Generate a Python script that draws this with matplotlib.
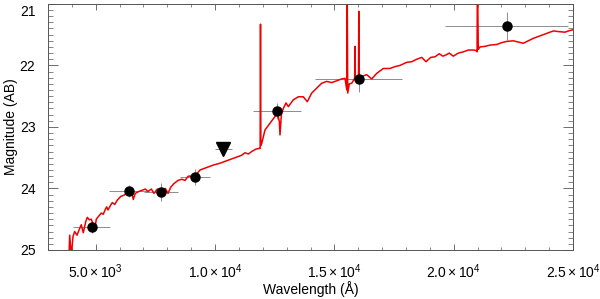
import matplotlib
matplotlib.use("Agg")
import matplotlib.pyplot as plt
import matplotlib.transforms as mtransforms
import numpy as np
from matplotlib.ticker import MultipleLocator, FixedLocator

plt.rcParams['font.family'] = ['Liberation Sans', 'DejaVu Sans']
plt.rcParams['mathtext.fontset'] = 'custom'
plt.rcParams['mathtext.rm'] = 'Liberation Sans'
plt.rcParams['mathtext.it'] = 'Liberation Sans:italic'
plt.rcParams['mathtext.bf'] = 'Liberation Sans:bold'

# ---- model spectrum (wavelength in Angstrom, AB magnitude) ----
spec_wave = [3850, 3880, 3909, 3976, 4048, 4119, 4215, 4328, 4395, 4479, 4580, 4647,
             4731, 4814, 4898, 4957, 5024, 5125, 5234, 5317, 5401, 5460, 5514, 5627,
             5694, 5795, 5904, 6047, 6185, 6323, 6424, 6520, 6574, 6658, 6801, 6939,
             7077, 7190, 7329, 7442, 7580, 7748, 7915, 8029, 8142, 8280, 8448, 8603,
             8741, 8879, 9160, 9370, 9650, 9927, 10208, 10417, 10627, 10908, 11117,
             11255, 11394, 11536, 11716, 11855, 11890, 11905, 11920, 11955, 12093,
             12303, 12512, 12609, 12693, 12722, 12780, 12860, 12973, 13070, 13279,
             13489, 13698, 13866, 14050, 14260, 14469, 14679, 14888, 15098, 15307,
             15446, 15520, 15535, 15560, 15626, 15727, 15836, 15850, 15865, 15880,
             15936, 16010, 16024, 16040, 16074, 16213, 16355, 16565, 16774, 17051,
             17331, 17541, 17750, 18031, 18241, 18450, 18660, 18840, 19037, 19217,
             19397, 19540, 19678, 19816, 19984, 20193, 20403, 20612, 20822, 20964,
             20980, 20995, 21031, 21103, 21312, 21522, 21802, 22012, 22221, 22498,
             22708, 22917, 23127, 23337, 23617, 23898, 24175, 24385, 24666, 24804,
             25013]
spec_mag = [25.40, 25.05, 24.76, 25.10, 24.78, 24.70, 24.76, 24.65, 24.59, 24.72, 24.54, 24.47,
            24.51, 24.50, 24.59, 24.67, 24.50, 24.45, 24.40, 24.42, 24.34, 24.30, 24.35, 24.27,
            24.23, 24.26, 24.19, 24.13, 24.11, 24.07, 24.09, 24.08, 24.18, 24.08, 24.05, 24.03,
            24.01, 24.05, 24.01, 24.08, 24.01, 24.04, 24.00, 24.08, 23.98, 23.92, 23.87, 23.85,
            23.87, 23.80, 23.80, 23.70, 23.66, 23.62, 23.59, 23.56, 23.53, 23.49, 23.46,
            23.42, 23.44, 23.40, 23.36, 23.35, 23.35, 21.33, 23.30, 23.27, 23.05,
            22.94, 22.83, 22.77, 22.91, 23.13, 22.80, 22.70, 22.61, 22.67, 22.56,
            22.51, 22.51, 22.59, 22.45, 22.37, 22.29, 22.26, 22.28, 22.25, 22.22,
            22.21, 22.40, 20.50, 22.45, 22.30, 22.29, 22.22, 22.22, 21.69, 22.22,
            22.21, 22.20, 21.12, 22.20, 22.19, 22.17, 22.15, 22.22, 22.13, 22.05,
            22.05, 22.02, 22.00, 21.95, 21.94, 21.90, 21.87, 21.94, 21.87, 21.86,
            21.81, 21.85, 21.83, 21.80, 21.85, 21.80, 21.78, 21.75, 21.75, 21.76,
            21.78, 20.50, 21.74, 21.70, 21.69, 21.67, 21.66, 21.63, 21.61, 21.60,
            21.62, 21.64, 21.60, 21.56, 21.52, 21.48, 21.44, 21.45, 21.46, 21.44,
            21.42]

# ---- photometric detections ----
phot_wave = [4844, 6394, 7735, 9160, 12596, 16032, 22234]
phot_mag = [24.63, 24.04, 24.06, 23.82, 22.74, 22.22, 21.36]
phot_xlo = [4048, 5556, 7023, 8531, 11590, 14188, 19636]
phot_xhi = [5598, 7232, 8448, 9789, 13602, 17822, 24804]
phot_merr = [0.10, 0.10, 0.15, 0.13, 0.13, 0.22, 0.22]

# ---- upper limit ----
lim_wave = [10346]
lim_mag = [23.36]
lim_xlo = [10000]
lim_xhi = [10700]

xticks = [5000, 10000, 15000, 20000, 25000]
xtick_labels = [r'$\mathregular{5.0\times10^{3}}$', r'$\mathregular{1.0\times10^{4}}$',
                r'$\mathregular{1.5\times10^{4}}$', r'$\mathregular{2.0\times10^{4}}$',
                r'$\mathregular{2.5\times10^{4}}$']
yticks = [21, 22, 23, 24, 25]

fig = plt.figure(figsize=(6.0, 2.99), dpi=100)
ax = fig.add_axes([0.080, 0.164, 0.875, 0.823])

ax.plot(spec_wave, spec_mag, color='#f00000', lw=1.1, zorder=2)

pw = np.array(phot_wave)
xerr = np.array([pw - np.array(phot_xlo), np.array(phot_xhi) - pw])
ax.errorbar(phot_wave, phot_mag, xerr=xerr, yerr=phot_merr, fmt='none',
            ecolor='#8c8c8c', elinewidth=0.7, capsize=0, zorder=1)
ax.plot(phot_wave, phot_mag, 'o', color='black', ms=6.5, zorder=3)

lw_ = np.array(lim_wave)
lxerr = np.array([lw_ - np.array(lim_xlo), np.array(lim_xhi) - lw_])
ax.errorbar(lim_wave, lim_mag, xerr=lxerr, fmt='none', ecolor='#8c8c8c',
            elinewidth=0.7, capsize=0, zorder=1)
ax.plot(lim_wave, lim_mag, 'v', color='black', ms=9.5, zorder=3)

ax.set_xlim(3000, 25000)
ax.set_ylim(25, 21)
ax.xaxis.set_major_locator(FixedLocator(xticks))
ax.set_xticklabels(xtick_labels)
ax.xaxis.set_minor_locator(MultipleLocator(1000))
ax.yaxis.set_major_locator(FixedLocator(yticks))
ax.set_yticklabels([str(v) for v in yticks])
ax.yaxis.set_minor_locator(MultipleLocator(0.1))

ax.tick_params(axis='x', which='major', direction='in', length=4, width=0.6,
               top=True, bottom=True, color='#555555', pad=9, labelsize=10)
ax.tick_params(axis='x', which='minor', direction='in', length=2, width=0.5,
               top=True, bottom=True, color='#555555')
ax.tick_params(axis='y', which='major', direction='in', length=7.5, width=0.6,
               left=True, right=True, color='#555555', pad=9, labelsize=10)
ax.tick_params(axis='y', which='minor', direction='in', length=3.8, width=0.5,
               left=True, right=True, color='#555555')
for s in ax.spines.values():
    s.set_linewidth(0.7)
    s.set_color('#555555')

# shift the top "21" label down a little, as in the reference
fig.canvas.draw()
top_lbl = ax.get_yticklabels()[0]
top_lbl.set_transform(top_lbl.get_transform() +
                      mtransforms.ScaledTranslation(0, -7 / 100, fig.dpi_scale_trans))

ax.set_xlabel('Wavelength (Å)', fontsize=10, labelpad=0)
ax.set_ylabel('Magnitude (AB)', fontsize=10, labelpad=1)

fig.savefig('out.png', dpi=100)
